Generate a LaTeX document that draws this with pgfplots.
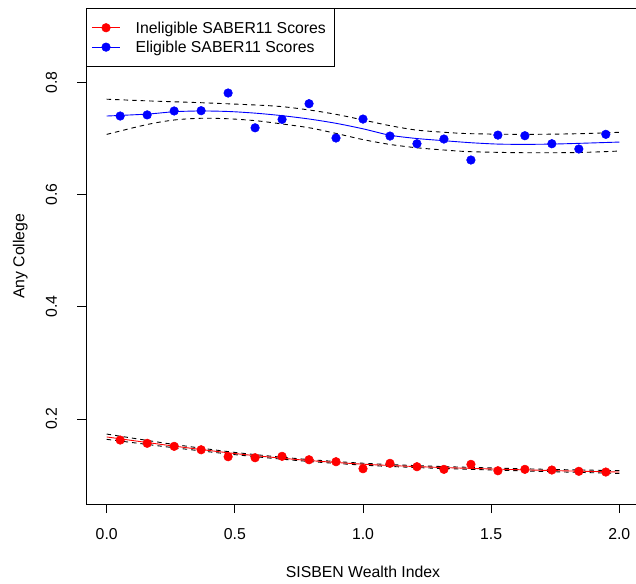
\documentclass[border=0pt]{standalone}
\usepackage{fontspec}
\setmainfont{Liberation Sans}
\usepackage{pgfplots}
\pgfplotsset{compat=1.18}
\newcommand{\tf}{\fontsize{15.8bp}{19bp}\selectfont}
\begin{document}
\begin{tikzpicture}
\begin{axis}[
  at={(86.2bp,79.7bp)}, anchor=south west,
  scale only axis, width=553.6bp, height=496bp,
  xmin=-0.08, xmax=2.08, ymin=0.048, ymax=0.932,
  axis line style={line width=0.9bp},
  xtick={0,0.5,1,1.5,2}, ytick={0.2,0.4,0.6,0.8},
  xticklabels={0.0,0.5,1.0,1.5,2.0}, yticklabels={0.2,0.4,0.6,0.8},
  tick align=outside, tick pos=left,
  major tick length=8.7bp, tick style={line width=0.9bp, black},
  /pgf/number format/assume math mode=true,
  tick label style={font=\tf},
  label style={font=\tf},
  xticklabel style={anchor=base}, xticklabel shift=26.5bp,
  yticklabel style={rotate=90, anchor=base}, yticklabel shift=20.7bp,
  xlabel={SISBEN Wealth Index}, ylabel={Any College},
  xlabel style={at={(axis description cs:0.5,-0.1474)}, anchor=base},
  ylabel style={at={(axis description cs:-0.1115,0.5)}, anchor=base},
  legend style={at={(0,1)}, anchor=north west, draw=black, line width=0.9bp,
    inner xsep=0pt, inner ysep=13.1bp, row sep=7.6bp, font=\tf,
    nodes={inner sep=0pt, text height=11.5bp, text depth=0.3bp}},
  legend cell align=left,
  legend image code/.code={\path (-4.8bp,0bp) (43.3bp,0bp);
    \draw[mark repeat=2,mark phase=2,#1] plot coordinates {(0bp,0bp)(14.15bp,0bp)(28.3bp,0bp)};},
]
% blue CI
\addplot[black, line width=0.9bp, dash pattern=on 4.5bp off 4bp, smooth, forget plot] coordinates {
(0,0.770) (0.159,0.767) (0.370,0.7637) (0.583,0.7596) (0.687,0.7566) (0.791,0.7507) (0.895,0.743) (1.0,0.733) (1.103,0.723) (1.208,0.715) (1.317,0.711) (1.422,0.7085) (1.630,0.7073) (1.842,0.7085) (2.0,0.711)};
\addplot[black, line width=0.9bp, dash pattern=on 4.5bp off 4bp, smooth, forget plot] coordinates {
(0,0.7073) (0.159,0.725) (0.265,0.733) (0.370,0.736) (0.479,0.735) (0.583,0.7316) (0.687,0.7257) (0.791,0.719) (0.895,0.709) (1.0,0.698) (1.103,0.6895) (1.208,0.6835) (1.317,0.6794) (1.422,0.6764) (1.630,0.6746) (1.842,0.675) (2.0,0.6776)};
% red CI
\addplot[black, line width=0.9bp, dash pattern=on 4.5bp off 4bp, smooth, forget plot] coordinates {
(0,0.1732) (0.25,0.1555) (0.5,0.1405) (0.75,0.1292) (1.0,0.1212) (1.25,0.1162) (1.5,0.1128) (1.75,0.1100) (2.0,0.1080)};
\addplot[black, line width=0.9bp, dash pattern=on 4.5bp off 4bp, smooth, forget plot] coordinates {
(0,0.1638) (0.25,0.1495) (0.5,0.1365) (0.75,0.1258) (1.0,0.1178) (1.25,0.1128) (1.5,0.1092) (1.75,0.1060) (2.0,0.1030)};
% fits
\addplot[red, line width=0.9bp, smooth, forget plot] coordinates {
(0,0.1680) (0.25,0.1525) (0.5,0.1385) (0.75,0.1275) (1.0,0.1195) (1.25,0.1145) (1.5,0.1110) (1.75,0.1080) (2.0,0.1055)};
\addplot[blue, line width=0.9bp, smooth, forget plot] coordinates {
(0,0.740) (0.159,0.7435) (0.265,0.7477) (0.370,0.749) (0.479,0.748) (0.583,0.745) (0.687,0.7405) (0.791,0.7346) (0.895,0.727) (1.0,0.7172) (1.103,0.706) (1.208,0.700) (1.317,0.696) (1.422,0.6924) (1.526,0.690) (1.630,0.6895) (1.737,0.690) (1.842,0.6913) (2.0,0.6936)};
% points
\addplot[only marks, mark=*, mark size=4.3bp, mark options={fill=red, draw=red, line width=0.5bp}, forget plot] coordinates {
(0.0526,0.1625) (0.1579,0.1567) (0.2632,0.1513) (0.3684,0.1452) (0.4737,0.1328) (0.5789,0.1310) (0.6842,0.1335) (0.7895,0.1274) (0.8947,0.1239) (1.0000,0.1114) (1.1053,0.1210) (1.2105,0.1150) (1.3158,0.1103) (1.4211,0.1192) (1.5263,0.1078) (1.6316,0.1103) (1.7368,0.1091) (1.8421,0.1068) (1.9474,0.1055)};
\addplot[only marks, mark=*, mark size=4.3bp, mark options={fill=blue, draw=blue, line width=0.5bp}, forget plot] coordinates {
(0.0526,0.740) (0.1579,0.742) (0.2632,0.749) (0.3684,0.7495) (0.4737,0.781) (0.5789,0.719) (0.6842,0.734) (0.7895,0.762) (0.8947,0.7008) (1.0000,0.7346) (1.1053,0.7043) (1.2105,0.6906) (1.3158,0.699) (1.4211,0.6616) (1.5263,0.706) (1.6316,0.7049) (1.7368,0.6906) (1.8421,0.6812) (1.9474,0.7074)};
\addlegendimage{red, line width=0.9bp, mark=*, mark size=4.3bp, mark options={fill=red, draw=red, line width=0.5bp}}
\addlegendentry{Ineligible SABER11 Scores\hspace*{8.3bp}}
\addlegendimage{blue, line width=0.9bp, mark=*, mark size=4.3bp, mark options={fill=blue, draw=blue, line width=0.5bp}}
\addlegendentry{Eligible SABER11 Scores\hspace*{8.3bp}}
\end{axis}
\pgfresetboundingbox
\path[use as bounding box] (0bp,0bp) rectangle (636bp,584bp);
\end{tikzpicture}
\end{document}
